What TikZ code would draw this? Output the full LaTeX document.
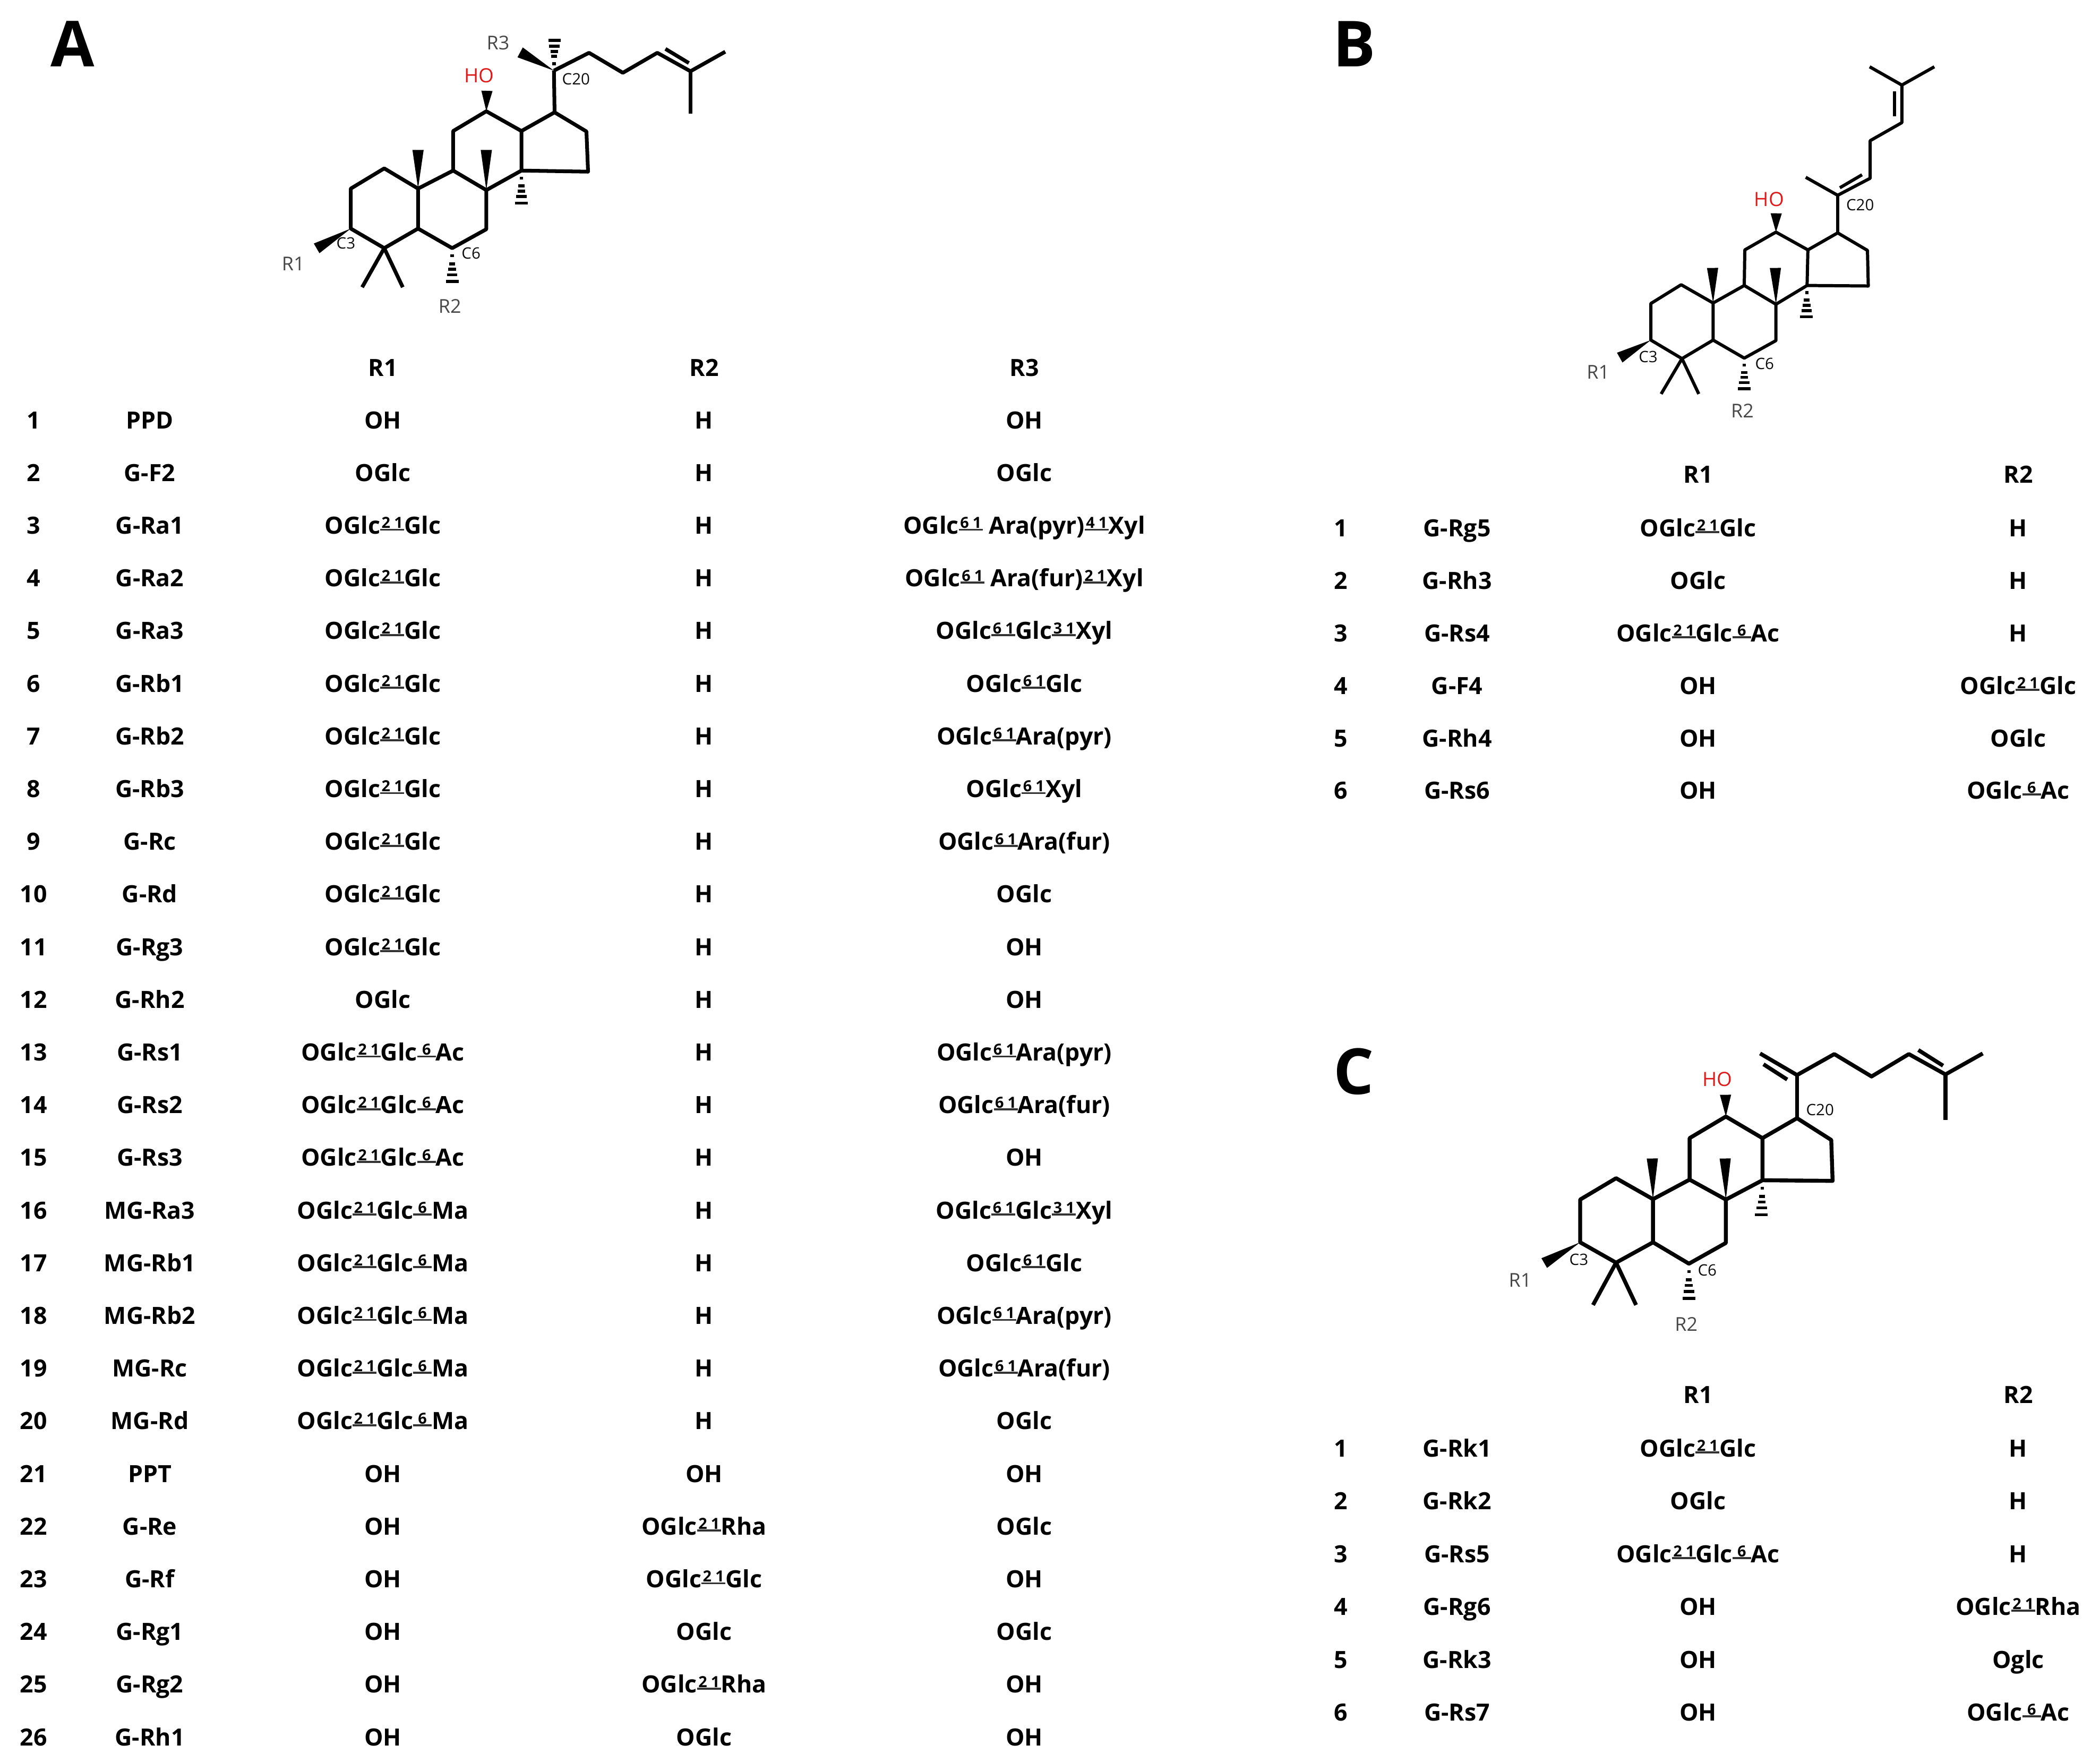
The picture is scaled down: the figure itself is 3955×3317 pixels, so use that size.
\documentclass[tikz,border=0pt]{standalone}
\usepackage{fontspec}
\setmainfont{Open Sans}
\usetikzlibrary{calc}
\newcommand{\lnk}[2]{\raisebox{1.7pt}{\rlap{\textcolor{black!80}{\rule{12.8pt}{1.1pt}}}\makebox[12.8pt][s]{\raisebox{1.3pt}{\bfseries\fontsize{8.2}{8}\selectfont\makebox[12.8pt][s]{\hspace{0.7pt}#1\hfil#2\hspace{0.7pt}}}}}}
\newcommand{\lnkb}[1]{\raisebox{1.7pt}{\rlap{\textcolor{black!80}{\rule{10pt}{1.1pt}}}\makebox[10pt]{\raisebox{1.3pt}{\bfseries\fontsize{8.2}{8}\selectfont #1}}}}
\newcommand{\wedgebond}[2]{\fill ($(#1)$) -- ($(#2)!3pt!90:(#1)$) -- ($(#2)!3pt!-90:(#1)$) -- cycle;}
\newcommand{\hashbond}[2]{\foreach \t/\w in {0.23/0.9,0.47/1.6,0.63/2.1,0.8/2.8,1/3.4}
  \draw[hashline] ($(#1)!\t!(#2)+(-\w pt,0)$) -- ($(#1)!\t!(#2)+(\w pt,0)$);}
\newcommand{\steroidcore}[1]{
  \draw[bond] (#11) -- (#12) -- (#13) -- (#14) -- (#15) -- (#110) -- cycle;
  \draw[bond] (#15) -- (#16) -- (#17) -- (#18) -- (#19) -- (#110);
  \draw[bond] (#19) -- (#111) -- (#112) -- (#113) -- (#114) -- (#18);
  \draw[bond] (#114) -- (#115) -- (#116) -- (#117) -- (#113);
  \draw[bond] (#117) -- (#120);
  \draw[bond] (#1m1) -- (#14) -- (#1m2);
  \wedgebond{#13}{#1w3}
  \wedgebond{#110}{#1w10}
  \wedgebond{#18}{#1w8}
  \wedgebond{#112}{#1w12}
  \hashbond{#114}{#1h14}
  \hashbond{#16}{#1h6}
}
\tikzset{
  bond/.style={line width=\bondwd,line join=round},
  hashline/.style={line width=1.6pt},
  cell/.style={font=\fontsize{12.7}{14}\selectfont\bfseries,anchor=base,yshift=-0.16cm,inner sep=0pt},
  panelletter/.style={font=\fontsize{34}{36}\selectfont\bfseries,inner sep=0pt},
  rlabel/.style={font=\fontsize{10.2}{12}\selectfont,text=black!72,inner sep=0pt},
  clabel/.style={font=\fontsize{8.4}{10}\selectfont,text=black!95,inner sep=0pt},
  holabel/.style={font=\fontsize{10.5}{12}\selectfont,text=red!85!black!90!white,inner sep=0pt}
}
\newcommand{\bondwd}{2pt}
\begin{document}
\begin{tikzpicture}[x=0.01cm,y=-0.01cm]
\useasboundingbox (0,0) rectangle (3955,3317);
\node[panelletter] (letterA) at (137,83) {A};
\node[panelletter] (letterB) at (2551,83) {B};
\node[panelletter] (letterC) at (2550,2018) {C};
% molecule A
\begin{scope}[shift={(480,0)},x=0.006124cm,y=-0.004082cm]
  \coordinate (A1) at (398,775); \coordinate (A2) at (295,868); \coordinate (A3) at (295,1052);
  \coordinate (A4) at (398,1142); \coordinate (A5) at (502,1052); \coordinate (A10) at (502,868);
  \coordinate (A6) at (607,1142); \coordinate (A7) at (712,1055); \coordinate (A8) at (712,875);
  \coordinate (A9) at (610,785); \coordinate (A11) at (610,603); \coordinate (A12) at (712,512);
  \coordinate (A13) at (820,603); \coordinate (A14) at (820,785); \coordinate (A15) at (1025,790);
  \coordinate (A16) at (1020,605); \coordinate (A17) at (922,517); \coordinate (A20) at (920,325);
  \coordinate (A22) at (1028,243); \coordinate (A23) at (1132,335); \coordinate (A24) at (1238,243);
  \coordinate (A25) at (1340,328); \coordinate (A26) at (1447,238); \coordinate (A27) at (1340,522);
  \coordinate (Am1) at (330,1322); \coordinate (Am2) at (455,1322);
  \coordinate (Aw3) at (190,1143); \coordinate (Aw10) at (502,690); \coordinate (Aw8) at (712,690);
  \coordinate (Aw12) at (714,418); \coordinate (Aw20) at (816,241);
  \coordinate (Ah14) at (820,935); \coordinate (Ah6) at (607,1295); \coordinate (Ah20) at (922,185);
  \coordinate (Ad1) at (1263,225); \coordinate (Ad2) at (1335,290);
  \steroidcore{A}
  \draw[bond] (A20) -- (A22) -- (A23) -- (A24) -- (A25) -- (A26);
  \draw[bond] (A25) -- (A27);
  \draw[bond] (Ad1) -- (Ad2);
  \wedgebond{A20}{Aw20}
  \hashbond{A20}{Ah20}
  \node[holabel] (Aho) at (690,348) {HO};
  \node[rlabel] (Ar3) at (748,197) {R3};
  \node[rlabel] (Ar1) at (118,1213) {R1};
  \node[rlabel] (Ar2) at (600,1408) {R2};
  \node[clabel] (Ac20) at (988,365) {C20};
  \node[clabel] (Ac3) at (280,1120) {C3};
  \node[clabel] (Ac6) at (665,1165) {C6};
\end{scope}
% molecule B
\def\bondwd{1.7pt}
\begin{scope}[shift={(2900,80)},x=0.005102cm,y=-0.004717cm]
  \coordinate (B1) at (522,967); \coordinate (B2) at (410,1042); \coordinate (B3) at (410,1188);
  \coordinate (B4) at (525,1262); \coordinate (B5) at (640,1188); \coordinate (B10) at (640,1040);
  \coordinate (B6) at (755,1260); \coordinate (B7) at (872,1190); \coordinate (B8) at (872,1045);
  \coordinate (B9) at (755,970); \coordinate (B11) at (757,828); \coordinate (B12) at (872,757);
  \coordinate (B13) at (990,828); \coordinate (B14) at (987,970); \coordinate (B15) at (1213,972);
  \coordinate (B16) at (1210,830); \coordinate (B17) at (1100,760); \coordinate (B20) at (1100,610);
  \coordinate (B21) at (982,538); \coordinate (B22) at (1220,542); \coordinate (B23) at (1220,392);
  \coordinate (B24) at (1337,320); \coordinate (B25) at (1337,170); \coordinate (B26) at (1218,97);
  \coordinate (B27) at (1457,97); \coordinate (Bm1) at (448,1403); \coordinate (Bm2) at (587,1403);
  \coordinate (Bw3) at (295,1258); \coordinate (Bw10) at (638,900); \coordinate (Bw8) at (870,900);
  \coordinate (Bw12) at (873,682);
  \coordinate (Bh14) at (985,1095); \coordinate (Bh6) at (755,1382);
  \coordinate (Bd1) at (1108,580); \coordinate (Bd2) at (1190,528);
  \coordinate (Bd3) at (1310,195); \coordinate (Bd4) at (1310,295);
  \steroidcore{B}
  \draw[bond] (B21) -- (B20) -- (B22) -- (B23) -- (B24) -- (B25) -- (B26);
  \draw[bond] (B25) -- (B27);
  \draw[bond] (Bd1) -- (Bd2);
  \draw[bond] (Bd3) -- (Bd4);
  \node[holabel] (Bho) at (847,627) {HO};
  \node[rlabel] (Br1) at (215,1315) {R1};
  \node[rlabel] (Br2) at (748,1470) {R2};
  \node[clabel] (Bc20) at (1183,648) {C20};
  \node[clabel] (Bc3) at (400,1255) {C3};
  \node[clabel] (Bc6) at (830,1283) {C6};
\end{scope}
% molecule C
\def\bondwd{2.1pt}
\begin{scope}[shift={(2780,1960)},x=0.006378cm,y=-0.003827cm]
  \coordinate (C1) at (413,675); \coordinate (C2) at (307,780); \coordinate (C3) at (307,990);
  \coordinate (C4) at (413,1090); \coordinate (C5) at (522,990); \coordinate (C10) at (522,778);
  \coordinate (C6) at (628,1095); \coordinate (C7) at (737,993); \coordinate (C8) at (737,780);
  \coordinate (C9) at (630,682); \coordinate (C11) at (630,478); \coordinate (C12) at (737,372);
  \coordinate (C13) at (845,478); \coordinate (C14) at (845,685); \coordinate (C15) at (1052,688);
  \coordinate (C16) at (1048,487); \coordinate (C17) at (947,380); \coordinate (C20) at (947,168);
  \coordinate (C21) at (838,62); \coordinate (C22) at (1057,65); \coordinate (C23) at (1167,175);
  \coordinate (C24) at (1277,65); \coordinate (C25) at (1385,165); \coordinate (C26) at (1495,62);
  \coordinate (C27) at (1385,388); \coordinate (Cm1) at (345,1298); \coordinate (Cm2) at (472,1298);
  \coordinate (Cw3) at (201,1092); \coordinate (Cw10) at (520,578); \coordinate (Cw8) at (735,578);
  \coordinate (Cw12) at (736,265);
  \coordinate (Ch14) at (842,855); \coordinate (Ch6) at (628,1265);
  \coordinate (Cd1) at (848,115); \coordinate (Cd2) at (918,190);
  \coordinate (Cd3) at (1305,45); \coordinate (Cd4) at (1378,122);
  \steroidcore{C}
  \draw[bond] (C21) -- (C20) -- (C22) -- (C23) -- (C24) -- (C25) -- (C26);
  \draw[bond] (C25) -- (C27);
  \draw[bond] (Cd1) -- (Cd2);
  \draw[bond] (Cd3) -- (Cd4);
  \node[holabel] (Cho) at (712,188) {HO};
  \node[rlabel] (Cr1) at (130,1175) {R1};
  \node[rlabel] (Cr2) at (620,1393) {R2};
  \node[clabel] (Cc20) at (1015,338) {C20};
  \node[clabel] (Cc3) at (303,1075) {C3};
  \node[clabel] (Cc6) at (682,1128) {C6};
\end{scope}
% table A
\begin{scope}[yshift=0.01cm]
\node[cell] (Ahx) at (721,693.6) {R1};
\node[cell] (Ahy) at (1326,693.6) {R2};
\node[cell] (Ahz) at (1929,693.6) {R3};
\node[cell] (a1n) at (63,792) {1}; \node[cell] (a1g) at (282,792) {PPD};
\node[cell] (a1x) at (721,792) {OH}; \node[cell] (a1y) at (1326,792) {H}; \node[cell] (a1z) at (1929,792) {OH};
\node[cell] (a2n) at (63,891.2) {2}; \node[cell] (a2g) at (282,891.2) {G-F2};
\node[cell] (a2x) at (721,891.2) {OGlc}; \node[cell] (a2y) at (1326,891.2) {H}; \node[cell] (a2z) at (1929,891.2) {OGlc};
\node[cell] (a3n) at (63,990.4) {3}; \node[cell] (a3g) at (282,990.4) {G-Ra1};
\node[cell] (a3x) at (721,990.4) {OGlc\lnk{2}{1}Glc}; \node[cell] (a3y) at (1326,990.4) {H}; \node[cell] (a3z) at (1929,990.4) {OGlc\lnk{6}{1} Ara(pyr)\lnk{4}{1}Xyl};
\node[cell] (a4n) at (63,1089.6) {4}; \node[cell] (a4g) at (282,1089.6) {G-Ra2};
\node[cell] (a4x) at (721,1089.6) {OGlc\lnk{2}{1}Glc}; \node[cell] (a4y) at (1326,1089.6) {H}; \node[cell] (a4z) at (1929,1089.6) {OGlc\lnk{6}{1} Ara(fur)\lnk{2}{1}Xyl};
\node[cell] (a5n) at (63,1188.8) {5}; \node[cell] (a5g) at (282,1188.8) {G-Ra3};
\node[cell] (a5x) at (721,1188.8) {OGlc\lnk{2}{1}Glc}; \node[cell] (a5y) at (1326,1188.8) {H}; \node[cell] (a5z) at (1929,1188.8) {OGlc\lnk{6}{1}Glc\lnk{3}{1}Xyl};
\node[cell] (a6n) at (63,1288) {6}; \node[cell] (a6g) at (282,1288) {G-Rb1};
\node[cell] (a6x) at (721,1288) {OGlc\lnk{2}{1}Glc}; \node[cell] (a6y) at (1326,1288) {H}; \node[cell] (a6z) at (1929,1288) {OGlc\lnk{6}{1}Glc};
\node[cell] (a7n) at (63,1387.2) {7}; \node[cell] (a7g) at (282,1387.2) {G-Rb2};
\node[cell] (a7x) at (721,1387.2) {OGlc\lnk{2}{1}Glc}; \node[cell] (a7y) at (1326,1387.2) {H}; \node[cell] (a7z) at (1929,1387.2) {OGlc\lnk{6}{1}Ara(pyr)};
\node[cell] (a8n) at (63,1486.4) {8}; \node[cell] (a8g) at (282,1486.4) {G-Rb3};
\node[cell] (a8x) at (721,1486.4) {OGlc\lnk{2}{1}Glc}; \node[cell] (a8y) at (1326,1486.4) {H}; \node[cell] (a8z) at (1929,1486.4) {OGlc\lnk{6}{1}Xyl};
\node[cell] (a9n) at (63,1585.6) {9}; \node[cell] (a9g) at (282,1585.6) {G-Rc};
\node[cell] (a9x) at (721,1585.6) {OGlc\lnk{2}{1}Glc}; \node[cell] (a9y) at (1326,1585.6) {H}; \node[cell] (a9z) at (1929,1585.6) {OGlc\lnk{6}{1}Ara(fur)};
\node[cell] (a10n) at (63,1684.8) {10}; \node[cell] (a10g) at (282,1684.8) {G-Rd};
\node[cell] (a10x) at (721,1684.8) {OGlc\lnk{2}{1}Glc}; \node[cell] (a10y) at (1326,1684.8) {H}; \node[cell] (a10z) at (1929,1684.8) {OGlc};
\node[cell] (a11n) at (63,1784) {11}; \node[cell] (a11g) at (282,1784) {G-Rg3};
\node[cell] (a11x) at (721,1784) {OGlc\lnk{2}{1}Glc}; \node[cell] (a11y) at (1326,1784) {H}; \node[cell] (a11z) at (1929,1784) {OH};
\node[cell] (a12n) at (63,1883.2) {12}; \node[cell] (a12g) at (282,1883.2) {G-Rh2};
\node[cell] (a12x) at (721,1883.2) {OGlc}; \node[cell] (a12y) at (1326,1883.2) {H}; \node[cell] (a12z) at (1929,1883.2) {OH};
\node[cell] (a13n) at (63,1982.4) {13}; \node[cell] (a13g) at (282,1982.4) {G-Rs1};
\node[cell] (a13x) at (721,1982.4) {OGlc\lnk{2}{1}Glc\lnkb{6}Ac}; \node[cell] (a13y) at (1326,1982.4) {H}; \node[cell] (a13z) at (1929,1982.4) {OGlc\lnk{6}{1}Ara(pyr)};
\node[cell] (a14n) at (63,2081.6) {14}; \node[cell] (a14g) at (282,2081.6) {G-Rs2};
\node[cell] (a14x) at (721,2081.6) {OGlc\lnk{2}{1}Glc\lnkb{6}Ac}; \node[cell] (a14y) at (1326,2081.6) {H}; \node[cell] (a14z) at (1929,2081.6) {OGlc\lnk{6}{1}Ara(fur)};
\node[cell] (a15n) at (63,2180.8) {15}; \node[cell] (a15g) at (282,2180.8) {G-Rs3};
\node[cell] (a15x) at (721,2180.8) {OGlc\lnk{2}{1}Glc\lnkb{6}Ac}; \node[cell] (a15y) at (1326,2180.8) {H}; \node[cell] (a15z) at (1929,2180.8) {OH};
\node[cell] (a16n) at (63,2280) {16}; \node[cell] (a16g) at (282,2280) {MG-Ra3};
\node[cell] (a16x) at (721,2280) {OGlc\lnk{2}{1}Glc\lnkb{6}Ma}; \node[cell] (a16y) at (1326,2280) {H}; \node[cell] (a16z) at (1929,2280) {OGlc\lnk{6}{1}Glc\lnk{3}{1}Xyl};
\node[cell] (a17n) at (63,2379.2) {17}; \node[cell] (a17g) at (282,2379.2) {MG-Rb1};
\node[cell] (a17x) at (721,2379.2) {OGlc\lnk{2}{1}Glc\lnkb{6}Ma}; \node[cell] (a17y) at (1326,2379.2) {H}; \node[cell] (a17z) at (1929,2379.2) {OGlc\lnk{6}{1}Glc};
\node[cell] (a18n) at (63,2478.4) {18}; \node[cell] (a18g) at (282,2478.4) {MG-Rb2};
\node[cell] (a18x) at (721,2478.4) {OGlc\lnk{2}{1}Glc\lnkb{6}Ma}; \node[cell] (a18y) at (1326,2478.4) {H}; \node[cell] (a18z) at (1929,2478.4) {OGlc\lnk{6}{1}Ara(pyr)};
\node[cell] (a19n) at (63,2577.6) {19}; \node[cell] (a19g) at (282,2577.6) {MG-Rc};
\node[cell] (a19x) at (721,2577.6) {OGlc\lnk{2}{1}Glc\lnkb{6}Ma}; \node[cell] (a19y) at (1326,2577.6) {H}; \node[cell] (a19z) at (1929,2577.6) {OGlc\lnk{6}{1}Ara(fur)};
\node[cell] (a20n) at (63,2676.8) {20}; \node[cell] (a20g) at (282,2676.8) {MG-Rd};
\node[cell] (a20x) at (721,2676.8) {OGlc\lnk{2}{1}Glc\lnkb{6}Ma}; \node[cell] (a20y) at (1326,2676.8) {H}; \node[cell] (a20z) at (1929,2676.8) {OGlc};
\node[cell] (a21n) at (63,2776) {21}; \node[cell] (a21g) at (282,2776) {PPT};
\node[cell] (a21x) at (721,2776) {OH}; \node[cell] (a21y) at (1326,2776) {OH}; \node[cell] (a21z) at (1929,2776) {OH};
\node[cell] (a22n) at (63,2875.2) {22}; \node[cell] (a22g) at (282,2875.2) {G-Re};
\node[cell] (a22x) at (721,2875.2) {OH}; \node[cell] (a22y) at (1326,2875.2) {OGlc\lnk{2}{1}Rha}; \node[cell] (a22z) at (1929,2875.2) {OGlc};
\node[cell] (a23n) at (63,2974.4) {23}; \node[cell] (a23g) at (282,2974.4) {G-Rf};
\node[cell] (a23x) at (721,2974.4) {OH}; \node[cell] (a23y) at (1326,2974.4) {OGlc\lnk{2}{1}Glc}; \node[cell] (a23z) at (1929,2974.4) {OH};
\node[cell] (a24n) at (63,3073.6) {24}; \node[cell] (a24g) at (282,3073.6) {G-Rg1};
\node[cell] (a24x) at (721,3073.6) {OH}; \node[cell] (a24y) at (1326,3073.6) {OGlc}; \node[cell] (a24z) at (1929,3073.6) {OGlc};
\node[cell] (a25n) at (63,3172.8) {25}; \node[cell] (a25g) at (282,3172.8) {G-Rg2};
\node[cell] (a25x) at (721,3172.8) {OH}; \node[cell] (a25y) at (1326,3172.8) {OGlc\lnk{2}{1}Rha}; \node[cell] (a25z) at (1929,3172.8) {OH};
\node[cell] (a26n) at (63,3272) {26}; \node[cell] (a26g) at (282,3272) {G-Rh1};
\node[cell] (a26x) at (721,3272) {OH}; \node[cell] (a26y) at (1326,3272) {OGlc}; \node[cell] (a26z) at (1929,3272) {OH};
\end{scope}
% table B
\node[cell] (Bhx) at (3198,893) {R1};
\node[cell] (Bhy) at (3801,893) {R2};
\node[cell] (b1n) at (2525,994) {1}; \node[cell] (b1g) at (2744,994) {G-Rg5};
\node[cell] (b1x) at (3198,994) {OGlc\lnk{2}{1}Glc}; \node[cell] (b1y) at (3801,994) {H};
\node[cell] (b2n) at (2525,1093) {2}; \node[cell] (b2g) at (2744,1093) {G-Rh3};
\node[cell] (b2x) at (3198,1093) {OGlc}; \node[cell] (b2y) at (3801,1093) {H};
\node[cell] (b3n) at (2525,1192) {3}; \node[cell] (b3g) at (2744,1192) {G-Rs4};
\node[cell] (b3x) at (3198,1192) {OGlc\lnk{2}{1}Glc\lnkb{6}Ac}; \node[cell] (b3y) at (3801,1192) {H};
\node[cell] (b4n) at (2525,1291) {4}; \node[cell] (b4g) at (2744,1291) {G-F4};
\node[cell] (b4x) at (3198,1291) {OH}; \node[cell] (b4y) at (3801,1291) {OGlc\lnk{2}{1}Glc};
\node[cell] (b5n) at (2525,1390) {5}; \node[cell] (b5g) at (2744,1390) {G-Rh4};
\node[cell] (b5x) at (3198,1390) {OH}; \node[cell] (b5y) at (3801,1390) {OGlc};
\node[cell] (b6n) at (2525,1488) {6}; \node[cell] (b6g) at (2744,1488) {G-Rs6};
\node[cell] (b6x) at (3198,1488) {OH}; \node[cell] (b6y) at (3801,1488) {OGlc\lnkb{6}Ac};
% table C
\begin{scope}[yshift=-0.01cm]
\node[cell] (Chx) at (3198,2625) {R1};
\node[cell] (Chy) at (3801,2625) {R2};
\node[cell] (c1n) at (2525,2726) {1}; \node[cell] (c1g) at (2744,2726) {G-Rk1};
\node[cell] (c1x) at (3198,2726) {OGlc\lnk{2}{1}Glc}; \node[cell] (c1y) at (3801,2726) {H};
\node[cell] (c2n) at (2525,2825) {2}; \node[cell] (c2g) at (2744,2825) {G-Rk2};
\node[cell] (c2x) at (3198,2825) {OGlc}; \node[cell] (c2y) at (3801,2825) {H};
\node[cell] (c3n) at (2525,2925) {3}; \node[cell] (c3g) at (2744,2925) {G-Rs5};
\node[cell] (c3x) at (3198,2925) {OGlc\lnk{2}{1}Glc\lnkb{6}Ac}; \node[cell] (c3y) at (3801,2925) {H};
\node[cell] (c4n) at (2525,3024) {4}; \node[cell] (c4g) at (2744,3024) {G-Rg6};
\node[cell] (c4x) at (3198,3024) {OH}; \node[cell] (c4y) at (3801,3024) {OGlc\lnk{2}{1}Rha};
\node[cell] (c5n) at (2525,3124) {5}; \node[cell] (c5g) at (2744,3124) {G-Rk3};
\node[cell] (c5x) at (3198,3124) {OH}; \node[cell] (c5y) at (3801,3124) {Oglc};
\node[cell] (c6n) at (2525,3223) {6}; \node[cell] (c6g) at (2744,3223) {G-Rs7};
\node[cell] (c6x) at (3198,3223) {OH}; \node[cell] (c6y) at (3801,3223) {OGlc\lnkb{6}Ac};
\end{scope}
\end{tikzpicture}
\end{document}
